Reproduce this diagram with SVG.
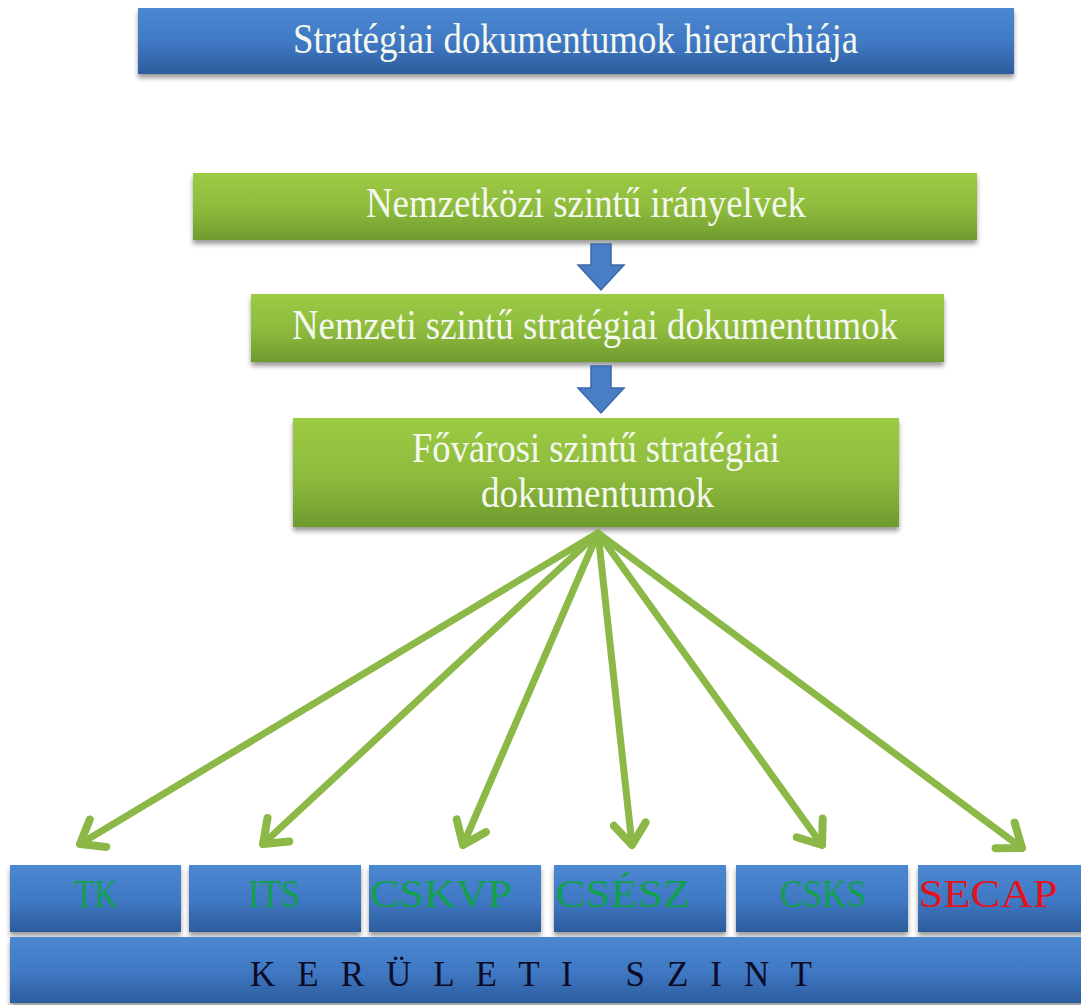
<svg xmlns="http://www.w3.org/2000/svg" width="1081" height="1005" viewBox="0 0 1081 1005">
<defs>
<linearGradient id="gBlue" x1="0" y1="0" x2="0" y2="1">
<stop offset="0" stop-color="#4c88d2"/>
<stop offset="0.55" stop-color="#3f77c2"/>
<stop offset="1" stop-color="#2c5c9c"/>
</linearGradient>
<linearGradient id="gGreen" x1="0" y1="0" x2="0" y2="1">
<stop offset="0" stop-color="#9dcb45"/>
<stop offset="0.55" stop-color="#8dba3c"/>
<stop offset="1" stop-color="#6f9a2e"/>
</linearGradient>
<filter id="sh" x="-5%" y="-20%" width="110%" height="150%">
<feGaussianBlur in="SourceAlpha" stdDeviation="2.5"/>
<feOffset dx="0" dy="4" result="b"/>
<feComponentTransfer><feFuncA type="linear" slope="0.4"/></feComponentTransfer>
<feMerge><feMergeNode/><feMergeNode in="SourceGraphic"/></feMerge>
</filter>
<marker id="chev" markerUnits="userSpaceOnUse" markerWidth="40" markerHeight="40" viewBox="-30 -20 40 40" refX="0" refY="0" orient="auto">
<path d="M -21 -16 L 0 0 L -21 16" fill="none" stroke="#8bb847" stroke-width="8" stroke-linecap="round" stroke-linejoin="round"/>
</marker>
</defs>
<style>
.blue{fill:url(#gBlue);filter:url(#sh)}
.green{fill:url(#gGreen);filter:url(#sh)}
.t{font-family:"Liberation Serif","Times New Roman",serif;fill:#f4f8ee;font-size:42px}
.s{font-family:"Liberation Serif","Times New Roman",serif;font-size:40px;text-anchor:middle}
.con{stroke:#8bb847;stroke-width:7;fill:none;stroke-linecap:round;marker-end:url(#chev)}
.barrow{fill:#4a7ec4;stroke:#3a68a8;stroke-width:1.5}
</style>
<g id="title">
<rect class="blue" x="138" y="8" width="876" height="66"/>
<text class="t" x="293" y="53" textLength="565" lengthAdjust="spacingAndGlyphs">Stratégiai dokumentumok hierarchiája</text>
</g>
<g id="nemzetkozi">
<rect class="green" x="193" y="173" width="784" height="67"/>
<text class="t" x="366" y="217" textLength="440" lengthAdjust="spacingAndGlyphs">Nemzetközi szintű irányelvek</text>
</g>
<g id="nemzeti">
<rect class="green" x="251" y="294" width="693" height="68"/>
<text class="t" x="292" y="339" textLength="606" lengthAdjust="spacingAndGlyphs">Nemzeti szintű stratégiai dokumentumok</text>
</g>
<g id="fovarosi">
<rect class="green" x="293" y="418" width="606" height="109"/>
<text class="t" x="412" y="462" textLength="368" lengthAdjust="spacingAndGlyphs">Fővárosi szintű stratégiai</text>
<text class="t" x="481" y="507" textLength="233" lengthAdjust="spacingAndGlyphs">dokumentumok</text>
</g>
<g id="tk">
<rect class="blue" x="10" y="865" width="171" height="67"/>
<text class="s" x="96" y="907" fill="#13a04e" textLength="43" lengthAdjust="spacingAndGlyphs">TK</text>
</g>
<g id="its">
<rect class="blue" x="189" y="865" width="172" height="67"/>
<text class="s" x="274" y="907" fill="#13a04e" textLength="52" lengthAdjust="spacingAndGlyphs">ITS</text>
</g>
<g id="cskvp">
<rect class="blue" x="369" y="865" width="172" height="67"/>
<text class="s" x="441" y="907" fill="#13a04e" textLength="142" lengthAdjust="spacingAndGlyphs">CSKVP</text>
</g>
<g id="csesz">
<rect class="blue" x="554" y="865" width="172" height="67"/>
<text class="s" x="623" y="907" fill="#13a04e" textLength="135" lengthAdjust="spacingAndGlyphs">CSÉSZ</text>
</g>
<g id="csks">
<rect class="blue" x="736" y="865" width="172" height="67"/>
<text class="s" x="823" y="907" fill="#13a04e" textLength="86" lengthAdjust="spacingAndGlyphs">CSKS</text>
</g>
<g id="secap">
<rect class="blue" x="918" y="865" width="175" height="67"/>
<text class="s" x="988" y="907" fill="#e0141e" textLength="139" lengthAdjust="spacingAndGlyphs">SECAP</text>
</g>
<g id="keruleti">
<rect class="blue" x="10" y="937" width="1081" height="66"/>
<text x="250" y="986" font-family="Liberation Serif, Times New Roman, serif" font-size="35" fill="#0c0c28" textLength="562" lengthAdjust="spacing" xml:space="preserve">K E R Ü L E T I   S Z I N T</text>
</g>
<g id="connectors">
<path class="barrow" d="M 591 244 L 611 244 L 611 265 L 624 265 L 601 290 L 578 265 L 591 265 Z"/>
<path class="barrow" d="M 591 366 L 611 366 L 611 388 L 624 388 L 601 413 L 578 388 L 591 388 Z"/>
<line class="con" x1="598" y1="533" x2="80" y2="844"/>
<line class="con" x1="598" y1="533" x2="263" y2="844"/>
<line class="con" x1="598" y1="533" x2="463" y2="845"/>
<line class="con" x1="598" y1="533" x2="632" y2="845"/>
<line class="con" x1="598" y1="533" x2="822" y2="845"/>
<line class="con" x1="598" y1="533" x2="1022" y2="848"/>
</g>
</svg>
